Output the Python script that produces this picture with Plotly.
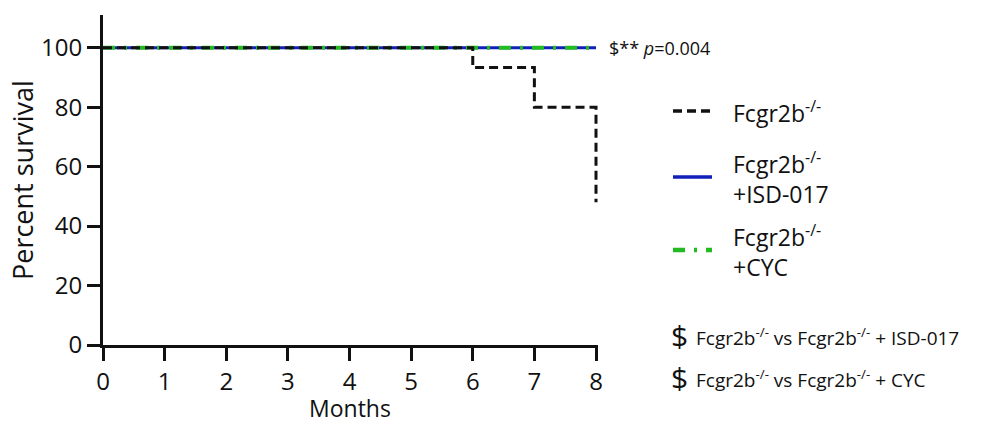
import plotly.graph_objects as go

# ---- data ----
months_ko = [0, 6, 6, 7, 7, 8, 8]
surv_ko = [100, 100, 93.3, 93.3, 80, 80, 48]
months_isd = [0, 8]
surv_isd = [100, 100]
months_cyc = [0, 8]
surv_cyc = [100, 100]
x_ticks = [0, 1, 2, 3, 4, 5, 6, 7, 8]
y_ticks = [0, 20, 40, 60, 80, 100]
x_title = "Months"
y_title = "Percent survival"
legend_names = ["Fcgr2b<sup>-/-</sup>",
                "Fcgr2b<sup>-/-</sup><br>+ISD-017",
                "Fcgr2b<sup>-/-</sup><br>+CYC"]
foot_notes = ["Fcgr2b<sup>-/-</sup> vs Fcgr2b<sup>-/-</sup> + ISD-017",
              "Fcgr2b<sup>-/-</sup> vs Fcgr2b<sup>-/-</sup> + CYC"]
p_text = "$** <i>p</i>=0.004"

W, H = 990, 425
L, T = 103, 15
R = W - 598
B = H - 345
PW, PH = W - L - R, H - T - B

def px(x):
    return (x - L) / PW

def py(y):
    return (H - B - y) / PH

FONT = "Open Sans"
BLUE = "#1020b8"
GREEN = "#22bb22"
BLACK = "#111111"

fig = go.Figure()
fig.add_trace(go.Scatter(x=months_isd, y=surv_isd, mode="lines",
                         line=dict(color=BLUE, width=3), showlegend=False))
fig.add_trace(go.Scatter(x=months_cyc, y=surv_cyc, mode="lines",
                         line=dict(color=GREEN, width=4, dash="12px,9px,3px,9px"),
                         showlegend=False))
fig.add_trace(go.Scatter(x=months_ko, y=surv_ko, mode="lines",
                         line=dict(color=BLACK, width=3, dash="9px,5px"),
                         showlegend=False))

# manual legend
styles = [dict(color=BLACK, width=3.5, dash="9px,5px"),
          dict(color=BLUE, width=3.5),
          dict(color=GREEN, width=4.5, dash="12px,9px,3px,9px")]
ys = [111, 177, 250]
for name, st, yy in zip(legend_names, styles, ys):
    fig.add_shape(type="line", xref="paper", yref="paper",
                  x0=px(673), x1=px(712), y0=py(yy), y1=py(yy), line=st)
    fig.add_annotation(xref="paper", yref="paper", x=px(731), y=py(yy + 1),
                       xanchor="left", yanchor="middle", text=name,
                       showarrow=False, align="left",
                       font=dict(family=FONT, size=23, color="#111"))

for note, yy in zip(foot_notes, [335, 377]):
    fig.add_annotation(xref="paper", yref="paper", x=px(669), y=py(yy),
                       xanchor="left", yanchor="middle", text="$",
                       showarrow=False, font=dict(family=FONT, size=30, color="#111"))
    fig.add_annotation(xref="paper", yref="paper", x=px(694), y=py(yy + 2),
                       xanchor="left", yanchor="middle", text=note,
                       showarrow=False, font=dict(family=FONT, size=19, color="#111"))

fig.add_annotation(xref="paper", yref="paper", x=px(607), y=py(48),
                   xanchor="left", yanchor="middle", text=p_text,
                   showarrow=False, font=dict(family=FONT, size=18, color="#111"))

# axis titles
fig.add_annotation(xref="paper", yref="paper", x=px(350), y=py(425),
                   xanchor="center", yanchor="bottom", text=x_title, borderpad=0,
                   showarrow=False, font=dict(family=FONT, size=23, color="#111"))
fig.add_annotation(xref="paper", yref="paper", x=px(22), y=py(180),
                   xanchor="center", yanchor="middle", text=y_title, textangle=-90,
                   showarrow=False, font=dict(family=FONT, size=27, color="#111"))

fig.update_layout(
    width=W, height=H,
    margin=dict(l=L, r=R, t=T, b=B, pad=0),
    paper_bgcolor="white", plot_bgcolor="white",
    font=dict(family=FONT, color="#111"),
    xaxis=dict(range=[0, 8 * PW / (596 - L)], tickvals=x_ticks, ticks="outside",
               ticklen=13, tickwidth=3, tickcolor="#111", showline=True,
               linewidth=3, linecolor="#111", showgrid=False, zeroline=False,
               automargin=False, tickfont=dict(size=24)),
    yaxis=dict(range=[0, 111], tickvals=y_ticks, ticks="outside", ticklen=13,
               tickwidth=3, tickcolor="#111", showline=True, linewidth=3,
               linecolor="#111", showgrid=False, zeroline=False,
               automargin=False, tickfont=dict(size=24)),
)

fig.write_html("out.html", config={"displayModeBar": False},
               post_script="document.body.style.margin='0';document.body.style.overflow='hidden';")
